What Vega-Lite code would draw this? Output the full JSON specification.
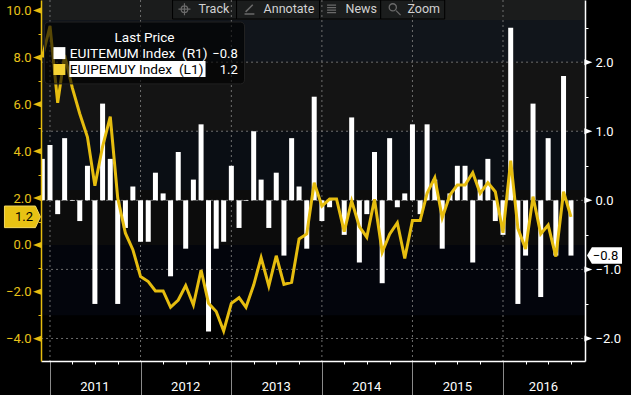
{
"$schema":"https://vega.github.io/schema/vega-lite/v6.json",
"width":544,"height":361,
"autosize":"none",
"padding":{"left":41,"top":0,"right":46,"bottom":34},
"background":"#000000",
"config":{"view":{"stroke":null},"font":"Roboto"},
"datasets":{
"monthly":[
{"date":"2010-12-01","euitemum":0.6,"euipemuy":8.0},
{"date":"2011-01-01","euitemum":0.8,"euipemuy":9.34},
{"date":"2011-02-01","euitemum":-0.2,"euipemuy":6.06},
{"date":"2011-03-01","euitemum":0.9,"euipemuy":8.1},
{"date":"2011-04-01","euitemum":-0.01,"euipemuy":6.7},
{"date":"2011-05-01","euitemum":-0.3,"euipemuy":5.6},
{"date":"2011-06-01","euitemum":0.5,"euipemuy":4.6},
{"date":"2011-07-01","euitemum":-1.5,"euipemuy":2.53},
{"date":"2011-08-01","euitemum":1.4,"euipemuy":4.2},
{"date":"2011-09-01","euitemum":0.6,"euipemuy":5.47},
{"date":"2011-10-01","euitemum":-1.5,"euipemuy":2.0},
{"date":"2011-11-01","euitemum":-0.4,"euipemuy":0.5},
{"date":"2011-12-01","euitemum":0.2,"euipemuy":-0.2},
{"date":"2012-01-01","euitemum":-0.6,"euipemuy":-1.35},
{"date":"2012-02-01","euitemum":-0.6,"euipemuy":-1.56},
{"date":"2012-03-01","euitemum":0.4,"euipemuy":-1.96},
{"date":"2012-04-01","euitemum":0.1,"euipemuy":-1.96},
{"date":"2012-05-01","euitemum":-1.1,"euipemuy":-2.66},
{"date":"2012-06-01","euitemum":0.7,"euipemuy":-2.35},
{"date":"2012-07-01","euitemum":-0.7,"euipemuy":-1.73},
{"date":"2012-08-01","euitemum":0.3,"euipemuy":-2.56},
{"date":"2012-09-01","euitemum":1.1,"euipemuy":-1.07},
{"date":"2012-10-01","euitemum":-1.9,"euipemuy":-2.49},
{"date":"2012-11-01","euitemum":-0.7,"euipemuy":-2.84},
{"date":"2012-12-01","euitemum":-0.6,"euipemuy":-3.67},
{"date":"2013-01-01","euitemum":0.5,"euipemuy":-2.49},
{"date":"2013-02-01","euitemum":-0.4,"euipemuy":-2.25},
{"date":"2013-03-01","euitemum":-0.01,"euipemuy":-2.66},
{"date":"2013-04-01","euitemum":1.0,"euipemuy":-1.71},
{"date":"2013-05-01","euitemum":0.3,"euipemuy":-0.54},
{"date":"2013-06-01","euitemum":-0.4,"euipemuy":-1.75},
{"date":"2013-07-01","euitemum":0.4,"euipemuy":-0.46},
{"date":"2013-08-01","euitemum":-0.8,"euipemuy":-1.68},
{"date":"2013-09-01","euitemum":0.9,"euipemuy":-1.59},
{"date":"2013-10-01","euitemum":0.2,"euipemuy":0.26},
{"date":"2013-11-01","euitemum":-0.7,"euipemuy":0.47},
{"date":"2013-12-01","euitemum":1.5,"euipemuy":2.66},
{"date":"2014-01-01","euitemum":-0.3,"euipemuy":1.66},
{"date":"2014-02-01","euitemum":-0.1,"euipemuy":1.96},
{"date":"2014-03-01","euitemum":0,"euipemuy":1.96},
{"date":"2014-04-01","euitemum":-0.5,"euipemuy":0.57},
{"date":"2014-05-01","euitemum":1.2,"euipemuy":1.88},
{"date":"2014-06-01","euitemum":-0.9,"euipemuy":0.78},
{"date":"2014-07-01","euitemum":-0.2,"euipemuy":0.33},
{"date":"2014-08-01","euitemum":0.7,"euipemuy":1.95},
{"date":"2014-09-01","euitemum":-1.2,"euipemuy":-0.31},
{"date":"2014-10-01","euitemum":0.9,"euipemuy":0.46},
{"date":"2014-11-01","euitemum":-0.1,"euipemuy":0.95},
{"date":"2014-12-01","euitemum":0.1,"euipemuy":-0.57},
{"date":"2015-01-01","euitemum":1.1,"euipemuy":1.04},
{"date":"2015-02-01","euitemum":-0.2,"euipemuy":1.04},
{"date":"2015-03-01","euitemum":1.1,"euipemuy":2.2},
{"date":"2015-04-01","euitemum":0.3,"euipemuy":2.87},
{"date":"2015-05-01","euitemum":-0.7,"euipemuy":1.16},
{"date":"2015-06-01","euitemum":0.1,"euipemuy":2.13},
{"date":"2015-07-01","euitemum":0.5,"euipemuy":2.56},
{"date":"2015-08-01","euitemum":0.5,"euipemuy":2.56},
{"date":"2015-09-01","euitemum":-0.9,"euipemuy":3.08},
{"date":"2015-10-01","euitemum":0.3,"euipemuy":2.2},
{"date":"2015-11-01","euitemum":0.6,"euipemuy":2.66},
{"date":"2015-12-01","euitemum":-0.3,"euipemuy":2.27},
{"date":"2016-01-01","euitemum":-0.5,"euipemuy":0.52},
{"date":"2016-02-01","euitemum":2.5,"euipemuy":3.6},
{"date":"2016-03-01","euitemum":-1.5,"euipemuy":0.71},
{"date":"2016-04-01","euitemum":-0.8,"euipemuy":-0.17},
{"date":"2016-05-01","euitemum":1.4,"euipemuy":2.06},
{"date":"2016-06-01","euitemum":-1.4,"euipemuy":0.47},
{"date":"2016-07-01","euitemum":0.9,"euipemuy":0.85},
{"date":"2016-08-01","euitemum":-0.8,"euipemuy":-0.5},
{"date":"2016-09-01","euitemum":1.8,"euipemuy":2.27},
{"date":"2016-10-01","euitemum":-0.8,"euipemuy":1.2}
],
"bands":[
{"band":"a","date":"2010-11-25T18:00:00Z","date2":"2016-11-26T12:00:00Z","v":-4.95,"v2":-3},
{"band":"b","date":"2010-11-25T18:00:00Z","date2":"2016-11-26T12:00:00Z","v":-3,"v2":0},
{"band":"c","date":"2010-11-25T18:00:00Z","date2":"2016-11-26T12:00:00Z","v":0,"v2":2.35},
{"band":"d","date":"2010-11-25T18:00:00Z","date2":"2016-11-26T12:00:00Z","v":2.35,"v2":4.86},
{"band":"e","date":"2010-11-25T18:00:00Z","date2":"2016-11-26T12:00:00Z","v":4.86,"v2":7.8},
{"band":"f","date":"2010-11-25T18:00:00Z","date2":"2016-11-26T12:00:00Z","v":7.8,"v2":9.6},
{"band":"g","date":"2010-11-25T18:00:00Z","date2":"2016-11-26T12:00:00Z","v":9.6,"v2":10.45}
]
},
"encoding":{
"x":{"field":"date","type":"temporal","scale":{"type":"utc","nice":false,"padding":0,"domain":[{"year":2010,"month":11,"date":25,"hours":18,"utc":true},{"year":2016,"month":11,"date":26,"hours":12,"utc":true}]},
 "axis":{"orient":"bottom","zindex":1,"labels":false,"title":null,"grid":false,"domainColor":"#ffffff","domainWidth":1.5,"tickCount":{"interval":"month","step":3},
  "tickSize":{"condition":{"test":"utcmonth(datum.value)==0","value":34},"value":3},
  "tickColor":{"condition":{"test":"utcmonth(datum.value)==0","value":"#8a8a8a"},"value":"#ffffff"}}},
"x2":{"field":"date2"},
"y":{"field":"v","type":"quantitative","scale":{"domain":[-4.95,10.45]},"axis":null},
"y2":{"field":"v2"}
},
"layer":[
{"data":{"name":"bands"},"mark":{"type":"rect"},
 "encoding":{"color":{"field":"band","type":"nominal","legend":null,"scale":{"domain":["a","b","c","d","e","f","g"],"range":["#000000","#03050c","#0c0c0c","#0a0e14","#141414","#11151b","#1b1c1c"]}}}},
{"data":{"values":[{"date":"2012-05-09","date2":"2013-01-22","v":9.64,"v2":10.45},{"date":"2013-01-22","date2":"2013-12-23","v":9.64,"v2":10.45},{"date":"2013-12-23","date2":"2014-08-26","v":9.64,"v2":10.45},{"date":"2014-08-26","date2":"2015-05-11","v":9.64,"v2":10.45}]},
 "mark":{"type":"rect","fill":"#1b1d1d","stroke":"#000000","strokeWidth":1}},
{"data":{"values":[{"date":"2012-08-22","label":"Track","v":10.06},{"date":"2013-05-11","label":"Annotate","v":10.06},{"date":"2014-04-06","label":"News","v":10.06},{"date":"2014-12-12","label":"Zoom","v":10.06}]},
 "mark":{"type":"text","align":"left","baseline":"middle","fill":"#d2d2d2","fontSize":12.5},
 "encoding":{"text":{"field":"label"},"x2":null,"y2":null}},
{"data":{"values":[{"date":"2012-06-26","v":10.06}]},"mark":{"type":"point","size":144,"filled":false,"stroke":"#6a6a6a","strokeWidth":1.2,"opacity":1,"shape":"M-1,0L1,0M0,-1L0,1M-.55,0A.55,.55 0 1,1 .55,0A.55,.55 0 1,1 -.55,0"},"encoding":{"x2":null,"y2":null}},
{"data":{"values":[{"date":"2013-03-15","v":10.06}]},"mark":{"type":"point","size":120,"filled":false,"stroke":"#6a6a6a","strokeWidth":1.5,"opacity":1,"shape":"M-.9,.9L.9,.9M-.7,.5L.6,-.8"},"encoding":{"x2":null,"y2":null}},
{"data":{"values":[{"date":"2014-02-09","v":10.06}]},"mark":{"type":"point","size":100,"filled":false,"stroke":"#6a6a6a","strokeWidth":1.2,"opacity":1,"shape":"M-.9,-.8L.9,-.8M-.9,-.3L.9,-.3M-.9,.2L.9,.2M-.9,.7L.9,.7"},"encoding":{"x2":null,"y2":null}},
{"data":{"values":[{"date":"2014-10-21","v":10.06}]},"mark":{"type":"point","size":144,"filled":false,"stroke":"#6a6a6a","strokeWidth":1.3,"opacity":1,"shape":"M.25,.25L1,1M-.9,-.3A.6,.6 0 1,1 .3,-.3A.6,.6 0 1,1 -.9,-.3"},"encoding":{"x2":null,"y2":null}},
{"data":{"values":[{"date":"2011-01-01","v":10.45,"v2":-4.95},{"date":"2012-01-01","v":10.45,"v2":-4.95},{"date":"2013-01-01","v":10.45,"v2":-4.95},{"date":"2014-01-01","v":10.45,"v2":-4.95},{"date":"2015-01-01","v":10.45,"v2":-4.95},{"date":"2016-01-01","v":10.45,"v2":-4.95}]},
 "mark":{"type":"rule","stroke":"#6e6e6e","strokeDash":[2,3],"strokeWidth":1},
 "encoding":{"x2":null}},
{"data":{"values":[{"date":"2010-11-26","date2":"2016-11-26","r":2},{"date":"2010-11-26","date2":"2016-11-26","r":1},{"date":"2010-11-26","date2":"2016-11-26","r":0},{"date":"2010-11-26","date2":"2016-11-26","r":-1},{"date":"2010-11-26","date2":"2016-11-26","r":-2}]},
 "mark":{"type":"rule","stroke":"#6e6e6e","strokeDash":[2,3],"strokeWidth":1},
 "encoding":{"y":{"field":"r","type":"quantitative","scale":{"domain":[-2.326,2.9]},"axis":null},"y2":null}},
{"data":{"name":"monthly"},"mark":{"type":"bar","width":5,"color":"#ffffff","clip":true},
 "encoding":{"x2":null,"y2":null,"y":{"field":"euitemum","type":"quantitative","stack":null,"scale":{"domain":[-2.326,2.9]},
 "axis":{"orient":"right","zindex":1,"title":null,"grid":false,"values":[-2,-1.5,-1,-0.5,0,0.5,1,1.5,2,2.5],"domainColor":"#ffffff","domainWidth":1.5,"tickColor":"#ffffff","tickSize":3,"labelColor":"#ffffff","labelFontSize":13,"labelFont":"Roboto","labelPadding":7,"labelFlush":false,"labelOverlap":false,
 "labelExpr":"datum.value*2%2==0 ? format(datum.value,'.1f') : ''"}}}},
{"data":{"name":"monthly"},"mark":{"type":"line","color":"#e6bd0f","strokeWidth":3,"clip":true},
 "encoding":{"x2":null,"y2":null,"y":{"field":"euipemuy","type":"quantitative","scale":{"domain":[-4.95,10.45]},
 "axis":{"orient":"left","zindex":1,"title":null,"grid":false,"values":[-4,-3,-2,-1,0,1,2,3,4,5,6,7,8,9,10],"domainColor":"#e6bd0f","domainWidth":1.5,"tickColor":"#e6bd0f","tickSize":3,"labelColor":"#e8c21a","labelFontSize":13,"labelFont":"Roboto","labelPadding":7,"labelFlush":false,"labelOverlap":false,
 "labelExpr":"datum.value%2==0 ? format(datum.value,'.1f') : ''"}}}},
{"data":{"values":[{"date":"2010-12-10","date2":"2013-02-23","v":6.87,"v2":9.51}]},"mark":{"type":"rect","fill":"#000000","fillOpacity":0.62,"stroke":"#222222","cornerRadius":4}},
{"data":{"values":[{"date":"2011-03-20","date2":"2012-09-19","v":7.16,"v2":7.85}]},"mark":{"type":"rect","fill":"#ffffff"}},
{"data":{"values":[{"date":"2011-01-15","date2":"2011-03-04","v":7.93,"v2":8.44}]},"mark":{"type":"rect","fill":"#ffffff"}},
{"data":{"values":[{"date":"2011-01-15","date2":"2011-03-04","v":7.25,"v2":7.72}]},"mark":{"type":"rect","fill":"#f5d335"}},
{"data":{"values":[{"date":"2012-01-17","label":"Last Price","v":8.83}]},"mark":{"type":"text","align":"center","baseline":"middle","fill":"#ffffff","fontSize":13.5},"encoding":{"text":{"field":"label"},"x2":null,"y2":null}},
{"data":{"values":[{"date":"2011-03-22","label":"EUITEMUM Index\u00a0\u00a0(R1)","v":8.13}]},"mark":{"type":"text","align":"left","baseline":"middle","fill":"#ffffff","fontSize":13.7},"encoding":{"text":{"field":"label"},"x2":null,"y2":null}},
{"data":{"values":[{"date":"2011-03-22","label":"EUIPEMUY Index\u00a0\u00a0(L1)","v":7.47}]},"mark":{"type":"text","align":"left","baseline":"middle","fill":"#000000","fontSize":13.7},"encoding":{"text":{"field":"label"},"x2":null,"y2":null}},
{"data":{"values":[{"date":"2013-01-27","label":"\u22120.8","v":8.13},{"date":"2013-01-27","label":"1.2","v":7.47}]},"mark":{"type":"text","align":"right","baseline":"middle","fill":"#ffffff","fontSize":13},"encoding":{"text":{"field":"label"},"x2":null,"y2":null}},
{"data":{"values":[{"date":"2011-07-01","label":"2011","v":-6.05},{"date":"2012-07-01","label":"2012","v":-6.05},{"date":"2013-07-01","label":"2013","v":-6.05},{"date":"2014-07-01","label":"2014","v":-6.05},{"date":"2015-07-01","label":"2015","v":-6.05},{"date":"2016-06-12","label":"2016","v":-6.05}]},
 "mark":{"type":"text","align":"center","baseline":"middle","fill":"#ffffff","fontSize":13,"clip":false},"encoding":{"text":{"field":"label"},"x2":null,"y2":null}},
{"data":{"values":[{"date":"2010-11-10","v":10},{"date":"2010-11-10","v":8},{"date":"2010-11-10","v":6},{"date":"2010-11-10","v":4},{"date":"2010-11-10","v":2},{"date":"2010-11-10","v":0},{"date":"2010-11-10","v":-2},{"date":"2010-11-10","v":-4}]},
 "mark":{"type":"point","filled":true,"color":"#e6bd0f","opacity":1,"shape":"M-1,0L1,-.75L1,.75Z","size":64},"encoding":{"x2":null,"y2":null}},
{"data":{"values":[{"date":"2016-12-10","r":2},{"date":"2016-12-10","r":1},{"date":"2016-12-10","r":0},{"date":"2016-12-10","r":-1},{"date":"2016-12-10","r":-2}]},
 "mark":{"type":"point","filled":true,"color":"#ffffff","opacity":1,"shape":"M1,0L-1,-.75L-1,.75Z","size":64},
 "encoding":{"x2":null,"y2":null,"y":{"field":"r","type":"quantitative","scale":{"domain":[-2.326,2.9]},"axis":null}}},
{"data":{"values":[{"date":"2010-09-12","v":1.2}]},
 "mark":{"type":"point","filled":true,"fill":"#e8c214","stroke":"#f3d860","strokeWidth":1,"opacity":1,"shape":"M-1,-.6L.72,-.6L1,0L.72,.6L-1,.6Z","size":1296},"encoding":{"x2":null,"y2":null}},
{"data":{"values":[{"date":"2010-09-18","label":"1.2","v":1.2}]},"mark":{"type":"text","align":"center","baseline":"middle","fill":"#000000","fontSize":13},"encoding":{"text":{"field":"label"},"x2":null,"y2":null}},
{"data":{"values":[{"date":"2017-02-13","r":-0.8}]},
 "mark":{"type":"point","filled":true,"fill":"#ffffff","opacity":1,"shape":"M-1,0L-.72,-.47L1,-.47L1,.47L-.72,.47Z","size":1225},
 "encoding":{"x2":null,"y2":null,"y":{"field":"r","type":"quantitative","scale":{"domain":[-2.326,2.9]},"axis":null}}},
{"data":{"values":[{"date":"2017-02-17","label":"\u22120.8","r":-0.8}]},"mark":{"type":"text","align":"center","baseline":"middle","fill":"#000000","fontSize":13},
 "encoding":{"text":{"field":"label"},"x2":null,"y2":null,"y":{"field":"r","type":"quantitative","scale":{"domain":[-2.326,2.9]},"axis":null}}}
],
"resolve":{"scale":{"y":"independent"}}
}
